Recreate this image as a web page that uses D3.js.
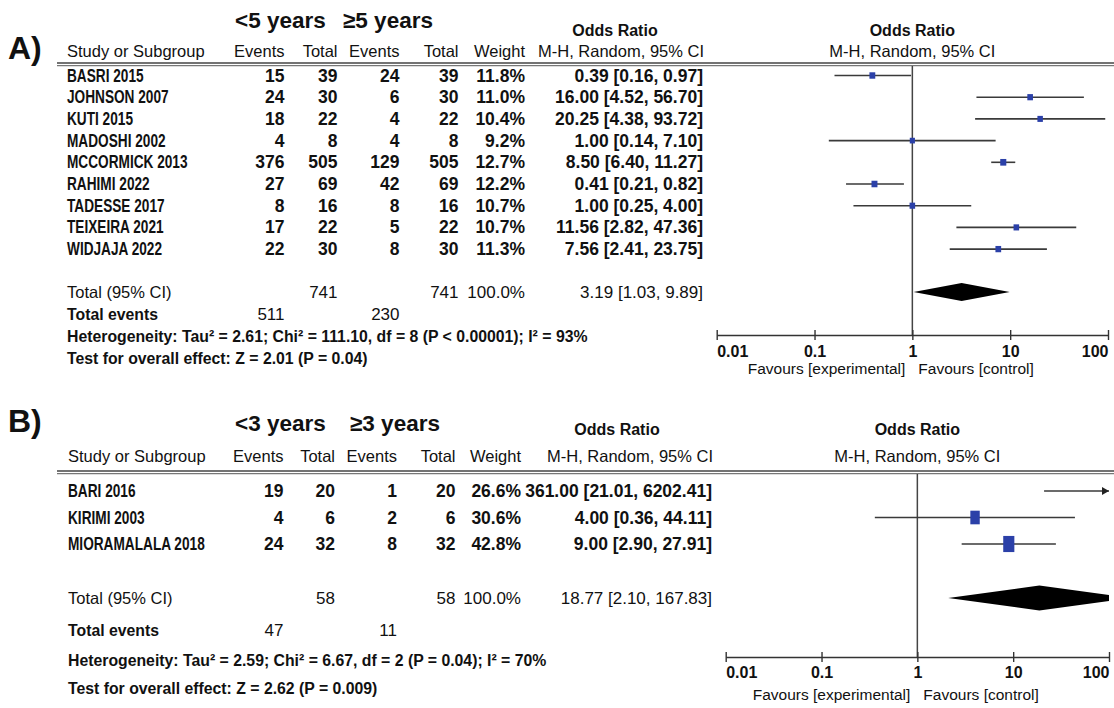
<!DOCTYPE html>
<html>
<head>
<meta charset="utf-8">
<script src="https://cdn.jsdelivr.net/npm/d3@7"></script>
<style>
  html, body { margin: 0; padding: 0; background: #fff; }
  svg { display: block; }
  text { fill: #111; }
  .panel { font-family: "Liberation Sans", Arial, sans-serif; font-weight: bold; font-size: 32px; }
  .grp   { font-family: "Liberation Sans", Arial, sans-serif; font-weight: bold; font-size: 22.5px; }
  .reg   { font-family: "Liberation Sans", Arial, sans-serif; font-size: 16.5px; }
  .title { font-family: "Liberation Sans", Arial, sans-serif; font-weight: bold; font-size: 16px; }
  .num   { font-family: "Liberation Sans", Arial, sans-serif; font-weight: bold; font-size: 17.5px; }
  .numr  { font-family: "Liberation Sans", Arial, sans-serif; font-size: 17px; }
  .name  { font-family: "Liberation Sans", Arial, sans-serif; font-weight: bold; font-size: 17.5px; }
  .stat  { font-family: "Liberation Sans", Arial, sans-serif; font-weight: bold; font-size: 15.8px; }
  .tickl { font-family: "Liberation Sans", Arial, sans-serif; font-weight: bold; font-size: 16px; }
  .fav   { font-family: "Liberation Sans", Arial, sans-serif; font-size: 15.5px; }
</style>
</head>
<body>
<svg id="chart" width="1114" height="708"></svg>
<script>
// ---- A) age < 5 years vs >= 5 years ----
const studiesA     = ["BASRI 2015", "JOHNSON 2007", "KUTI 2015", "MADOSHI 2002", "MCCORMICK 2013",
                      "RAHIMI 2022", "TADESSE 2017", "TEIXEIRA 2021", "WIDJAJA 2022"];
const eventsLowA   = [15, 24, 18, 4, 376, 27, 8, 17, 22];
const totalLowA    = [39, 30, 22, 8, 505, 69, 16, 22, 30];
const eventsHighA  = [24, 6, 4, 4, 129, 42, 8, 5, 8];
const totalHighA   = [39, 30, 22, 8, 505, 69, 16, 22, 30];
const weightA      = [11.8, 11.0, 10.4, 9.2, 12.7, 12.2, 10.7, 10.7, 11.3];
const oddsA        = [0.39, 16.00, 20.25, 1.00, 8.50, 0.41, 1.00, 11.56, 7.56];
const lowerA       = [0.16, 4.52, 4.38, 0.14, 6.40, 0.21, 0.25, 2.82, 2.41];
const upperA       = [0.97, 56.70, 93.72, 7.10, 11.27, 0.82, 4.00, 47.36, 23.75];
const groupsA      = ["<5 years", "≥5 years"];
const totalsA      = [741, 741];
const totalEventsA = [511, 230];
const pooledA      = [3.19, 1.03, 9.89];   // OR, lower, upper
const heteroA      = "Heterogeneity: Tau² = 2.61; Chi² = 111.10, df = 8 (P < 0.00001); I² = 93%";
const overallA     = "Test for overall effect: Z = 2.01 (P = 0.04)";

// ---- B) age < 3 years vs >= 3 years ----
const studiesB     = ["BARI 2016", "KIRIMI 2003", "MIORAMALALA 2018"];
const eventsLowB   = [19, 4, 24];
const totalLowB    = [20, 6, 32];
const eventsHighB  = [1, 2, 8];
const totalHighB   = [20, 6, 32];
const weightB      = [26.6, 30.6, 42.8];
const oddsB        = [361.00, 4.00, 9.00];
const lowerB       = [21.01, 0.36, 2.90];
const upperB       = [6202.41, 44.11, 27.91];
const groupsB      = ["<3 years", "≥3 years"];
const totalsB      = [58, 58];
const totalEventsB = [47, 11];
const pooledB      = [18.77, 2.10, 167.83];
const heteroB      = "Heterogeneity: Tau² = 2.59; Chi² = 6.67, df = 2 (P = 0.04); I² = 70%";
const overallB     = "Test for overall effect: Z = 2.62 (P = 0.009)";

// ---- shared axis ----
const tickValues = [0.01, 0.1, 1, 10, 100];
const tickLabels = ["0.01", "0.1", "1", "10", "100"];
const headers    = ["Events", "Total", "Events", "Total", "Weight"];
const favours    = ["Favours [experimental]", "Favours [control]"];

const fmt2 = d3.format(".2f");
const fmt1 = d3.format(".1f");
const orText = (o, l, u) => `${fmt2(o)} [${fmt2(l)}, ${fmt2(u)}]`;

const svg = d3.select("#chart");

function text(g, x, y, s, cls, anchor) {
  return g.append("text").attr("class", cls).attr("x", x).attr("y", y)
    .attr("text-anchor", anchor || "start").text(s);
}

// condensed bold label (study names)
function narrow(g, x, y, s) {
  return g.append("text").attr("class", "name")
    .attr("transform", `translate(${x},${y}) scale(0.78,1)`).text(s);
}

function drawPanel(D, L) {
  const g = svg.append("g");
  const x = d3.scaleLog().domain([tickValues[0], tickValues[tickValues.length - 1]]).range([L.x0, L.x1]);
  const [dMin, dMax] = x.domain();

  // panel letter and group names
  text(g, 8, L.letterY, L.letter, "panel");
  text(g, L.grpX[0], L.grpY, D.groups[0], "grp");
  text(g, L.grpX[1], L.grpY, D.groups[1], "grp");

  // column titles
  text(g, L.nameX, L.hdrY, "Study or Subgroup", "reg");
  headers.forEach((h, i) => text(g, L.cols[i], L.hdrY, h, "reg", "end"));
  text(g, L.orTitleX, L.titleY, "Odds Ratio", "title", "middle");
  text(g, L.orRight + 1, L.hdrY, "M-H, Random, 95% CI", "reg", "end");
  text(g, x(1), L.titleY, "Odds Ratio", "title", "middle");
  text(g, x(1), L.hdrY, "M-H, Random, 95% CI", "reg", "middle");

  // double rule under the titles
  [0, 2.6].forEach(dy => g.append("line")
    .attr("x1", L.ruleX).attr("x2", 1114)
    .attr("y1", L.ruleY + dy).attr("y2", L.ruleY + dy)
    .attr("stroke", dy ? "#777" : "#444").attr("stroke-width", 1.3));

  // line of no effect
  g.append("line").attr("x1", x(1)).attr("x2", x(1))
    .attr("y1", L.ruleY + 3).attr("y2", L.axisY)
    .attr("stroke", "#444").attr("stroke-width", 1.5);

  // study rows
  const rowY = i => L.rowY0 + i * L.rowStep;
  D.studies.forEach((s, i) => {
    const y = rowY(i);
    narrow(g, L.nameX, y, s);
    const vals = [D.eLow[i], D.nLow[i], D.eHigh[i], D.nHigh[i], fmt1(D.weight[i]) + "%"];
    vals.forEach((v, j) => text(g, L.cols[j], y, v, "num", "end"));
    text(g, L.orRight, y, orText(D.odds[i], D.lower[i], D.upper[i]), "num", "end");

    // confidence interval and weighted square
    const cy = y - 6;
    const lo = Math.max(D.lower[i], dMin), hi = Math.min(D.upper[i], dMax);
    g.append("line").attr("x1", x(lo)).attr("x2", x(hi)).attr("y1", cy).attr("y2", cy)
      .attr("stroke", "#3a3a3a").attr("stroke-width", 1.6);
    if (D.upper[i] > dMax) {
      const xe = x(dMax);
      g.append("path").attr("d", `M${xe},${cy} L${xe - 7},${cy - 4} L${xe - 7},${cy + 4} Z`)
        .attr("fill", "#222");
    }
    if (D.odds[i] >= dMin && D.odds[i] <= dMax) {
      const w = 1.7 * Math.sqrt(D.weight[i]);
      const h = w * L.markerAspect;
      g.append("rect").attr("x", x(D.odds[i]) - w / 2).attr("y", cy - h / 2)
        .attr("width", w).attr("height", h).attr("fill", "#2b40a8");
    }
  });

  // pooled row
  text(g, L.nameX, L.totalY, "Total (95% CI)", "reg");
  text(g, L.cols[1], L.totalY, D.totals[0], "numr", "end");
  text(g, L.cols[3], L.totalY, D.totals[1], "numr", "end");
  text(g, L.cols[4], L.totalY, "100.0%", "numr", "end");
  text(g, L.orRight, L.totalY, orText(D.pooled[0], D.pooled[1], D.pooled[2]), "numr", "end");

  const clipId = "clip" + L.letter.charAt(0);
  svg.append("clipPath").attr("id", clipId).append("rect")
    .attr("x", L.x0).attr("y", 0).attr("width", L.x1 - L.x0).attr("height", 708);
  const dy = L.totalY - 6;
  const pts = [[x(D.pooled[1]), dy], [x(D.pooled[0]), dy - L.diamondH],
               [x(D.pooled[2]), dy], [x(D.pooled[0]), dy + L.diamondH]];
  g.append("path").attr("d", "M" + pts.join("L") + "Z").attr("fill", "#000")
    .attr("clip-path", `url(#${clipId})`);

  text(g, L.nameX, L.eventsY, "Total events", "stat");
  text(g, L.cols[0], L.eventsY, D.totalEvents[0], "numr", "end");
  text(g, L.cols[2], L.eventsY, D.totalEvents[1], "numr", "end");
  text(g, L.nameX, L.hetY, D.hetero, "stat");
  text(g, L.nameX, L.testY, D.overall, "stat");

  // log axis
  const ax = g.append("g").attr("transform", `translate(0,${L.axisY})`)
    .call(d3.axisBottom(x).tickValues(tickValues)
      .tickFormat((d, i) => tickLabels[i]).tickSizeOuter(0).tickSizeInner(5));
  ax.select(".domain").attr("stroke", "#333").attr("stroke-width", 1.5);
  ax.selectAll(".tick line").attr("y1", -5).attr("y2", 5).attr("stroke", "#333").attr("stroke-width", 1.4);
  ax.selectAll(".tick text").attr("class", "tickl").attr("dy", null)
    .attr("y", L.tickY - L.axisY)
    .attr("text-anchor", (d, i) => i === 0 ? "start" : (i === tickValues.length - 1 ? "end" : "middle"));

  text(g, x(1) - 7, L.favY, favours[0], "fav", "end");
  text(g, x(1) + 6, L.favY, favours[1], "fav", "start");
}

drawPanel(
  { studies: studiesA, eLow: eventsLowA, nLow: totalLowA, eHigh: eventsHighA, nHigh: totalHighA,
    weight: weightA, odds: oddsA, lower: lowerA, upper: upperA, groups: groupsA,
    totals: totalsA, totalEvents: totalEventsA, pooled: pooledA, hetero: heteroA, overall: overallA },
  { letter: "A)", letterY: 59, grpX: [235, 343], grpY: 28, titleY: 36, orTitleX: 615,
    hdrY: 57, ruleY: 63, ruleX: 57, nameX: 67, rowY0: 81.5, rowStep: 21.7,
    cols: [284.5, 337.5, 399.5, 458.5, 525], orRight: 703,
    totalY: 298, eventsY: 320, hetY: 342, testY: 363.5,
    x0: 716.7, x1: 1108, axisY: 335, tickY: 357, favY: 374, markerAspect: 1.1, diamondH: 9 });

drawPanel(
  { studies: studiesB, eLow: eventsLowB, nLow: totalLowB, eHigh: eventsHighB, nHigh: totalHighB,
    weight: weightB, odds: oddsB, lower: lowerB, upper: upperB, groups: groupsB,
    totals: totalsB, totalEvents: totalEventsB, pooled: pooledB, hetero: heteroB, overall: overallB },
  { letter: "B)", letterY: 432, grpX: [235, 350], grpY: 431, titleY: 435, orTitleX: 617,
    hdrY: 462, ruleY: 471, ruleX: 57, nameX: 68, rowY0: 497, rowStep: 26.5,
    cols: [283.5, 335, 397, 455.5, 521], orRight: 712,
    totalY: 604, eventsY: 636, hetY: 666, testY: 694,
    x0: 725.7, x1: 1109, axisY: 657, tickY: 678, favY: 700, markerAspect: 1.45, diamondH: 12.5 });
</script>
</body>
</html>
